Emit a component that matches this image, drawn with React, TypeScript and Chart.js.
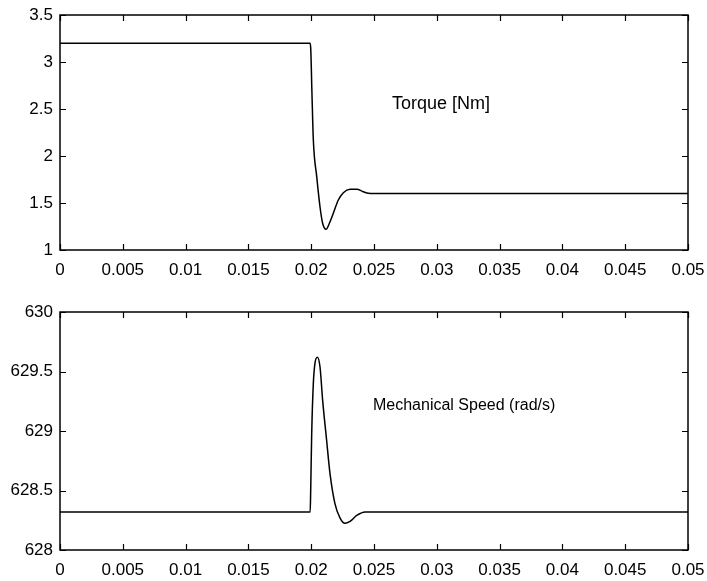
import React, { useEffect, useRef } from "react";
import { Chart, registerables } from "chart.js";

Chart.register(...registerables);

// ---- data ----
const xTickStep = 0.005;
const xMin = 0;
const xMax = 0.05;

const tTorque = [0, 0.0199, 0.01996, 0.02006, 0.02017, 0.02044, 0.0207, 0.02091, 0.02118, 0.02145, 0.02176, 0.02216, 0.02256, 0.02309, 0.02362, 0.02415, 0.02455, 0.025, 0.05];
const torque = [3.2, 3.2, 3.15, 2.667, 2.17, 1.78, 1.46, 1.284, 1.22, 1.284, 1.39, 1.532, 1.61, 1.646, 1.646, 1.62, 1.603, 1.6, 1.6];
const torqueMin = 1;
const torqueMax = 3.5;
const torqueStep = 0.5;
const torqueLabel = "Torque [Nm]";

const tSpeed = [0, 0.01992, 0.01996, 0.02004, 0.02017, 0.0203, 0.02049, 0.0207, 0.02091, 0.02123, 0.0215, 0.02189, 0.02229, 0.02269, 0.02309, 0.02362, 0.02429, 0.05];
const speed = [628.32, 628.32, 628.5, 628.98, 629.4, 629.57, 629.62, 629.54, 629.26, 628.92, 628.64, 628.39, 628.27, 628.224, 628.24, 628.29, 628.32, 628.32];
const speedMin = 628;
const speedMax = 630;
const speedStep = 0.5;
const speedLabel = "Mechanical Speed (rad/s)";

const FONT = "'Liberation Sans', Arial, Helvetica, sans-serif";

const fmt = (v: number) => String(Number(Number(v).toFixed(4)));

const framePlugin = {
  id: "frame",
  afterDraw(chart: any, _args: any, opts: any) {
    const { ctx, chartArea: a, scales } = chart;
    ctx.save();
    ctx.strokeStyle = "#000";
    ctx.lineWidth = 1.5;
    ctx.strokeRect(a.left, a.top, a.right - a.left, a.bottom - a.top);
    const L = 6;
    ctx.beginPath();
    scales.x.ticks.forEach((t: any) => {
      const px = Math.round(scales.x.getPixelForValue(t.value)) + 0.5;
      ctx.moveTo(px, a.bottom);
      ctx.lineTo(px, a.bottom - L);
      ctx.moveTo(px, a.top);
      ctx.lineTo(px, a.top + L);
    });
    scales.y.ticks.forEach((t: any) => {
      const py = Math.round(scales.y.getPixelForValue(t.value)) + 0.5;
      ctx.moveTo(a.left, py);
      ctx.lineTo(a.left + L, py);
      ctx.moveTo(a.right, py);
      ctx.lineTo(a.right - L, py);
    });
    ctx.lineWidth = 1.2;
    ctx.stroke();
    if (opts && opts.text) {
      ctx.fillStyle = "#000";
      ctx.font = `${opts.size}px ${FONT}`;
      ctx.textAlign = "left";
      ctx.textBaseline = "middle";
      ctx.fillText(opts.text, scales.x.getPixelForValue(opts.x), scales.y.getPixelForValue(opts.y));
    }
    ctx.restore();
  },
};

function makeConfig(
  xs: number[],
  ys: number[],
  yMin: number,
  yMax: number,
  yStep: number,
  padTop: number,
  xAxisHeight: number,
  text: string,
  tx: number,
  ty: number,
  textSize: number
): any {
  return {
    type: "line",
    data: {
      datasets: [
        {
          data: xs.map((x, i) => ({ x, y: ys[i] })),
          borderColor: "#000",
          borderWidth: 1.5,
          pointRadius: 0,
          fill: false,
          cubicInterpolationMode: "monotone",
        },
      ],
    },
    options: {
      responsive: false,
      animation: false,
      maintainAspectRatio: false,
      layout: { padding: { left: 0, right: 19, top: padTop, bottom: 0 } },
      plugins: {
        legend: { display: false },
        tooltip: { enabled: false },
        frame: { text, x: tx, y: ty, size: textSize },
      },
      scales: {
        x: {
          type: "linear",
          min: xMin,
          max: xMax,
          grid: { display: false, drawTicks: false },
          border: { display: false },
          ticks: {
            stepSize: xTickStep,
            autoSkip: false,
            maxRotation: 0,
            padding: 10,
            color: "#000",
            font: { family: FONT, size: 17 },
            callback: (v: any) => fmt(v),
          },
          afterFit: (s: any) => {
            s.height = xAxisHeight;
            s.paddingLeft = 0;
            s.paddingRight = 0;
          },
        },
        y: {
          type: "linear",
          min: yMin,
          max: yMax,
          grid: { display: false, drawTicks: false },
          border: { display: false },
          ticks: {
            stepSize: yStep,
            padding: 7,
            color: "#000",
            font: { family: FONT, size: 17 },
            callback: (v: any) => fmt(v),
          },
          afterFit: (s: any) => {
            s.width = 60;
            s.paddingTop = 0;
            s.paddingBottom = 0;
          },
        },
      },
    },
    plugins: [framePlugin],
  };
}

export default function App() {
  const topRef = useRef<HTMLCanvasElement>(null);
  const botRef = useRef<HTMLCanvasElement>(null);

  useEffect(() => {
    const c1 = new Chart(
      topRef.current as HTMLCanvasElement,
      makeConfig(tTorque, torque, torqueMin, torqueMax, torqueStep, 15, 40, torqueLabel, 0.02643, 2.55, 18)
    );
    const c2 = new Chart(
      botRef.current as HTMLCanvasElement,
      makeConfig(tSpeed, speed, speedMin, speedMax, speedStep, 22, 31, speedLabel, 0.02492, 629.21, 16)
    );
    return () => {
      c1.destroy();
      c2.destroy();
    };
  }, []);

  return (
    <div style={{ position: "fixed", left: 0, top: 0, width: 707, height: 581, background: "#fff" }}>
      <canvas ref={topRef} width={707} height={290} style={{ position: "absolute", left: 0, top: 0, display: "block" }} />
      <canvas ref={botRef} width={707} height={291} style={{ position: "absolute", left: 0, top: 290, display: "block" }} />
    </div>
  );
}
